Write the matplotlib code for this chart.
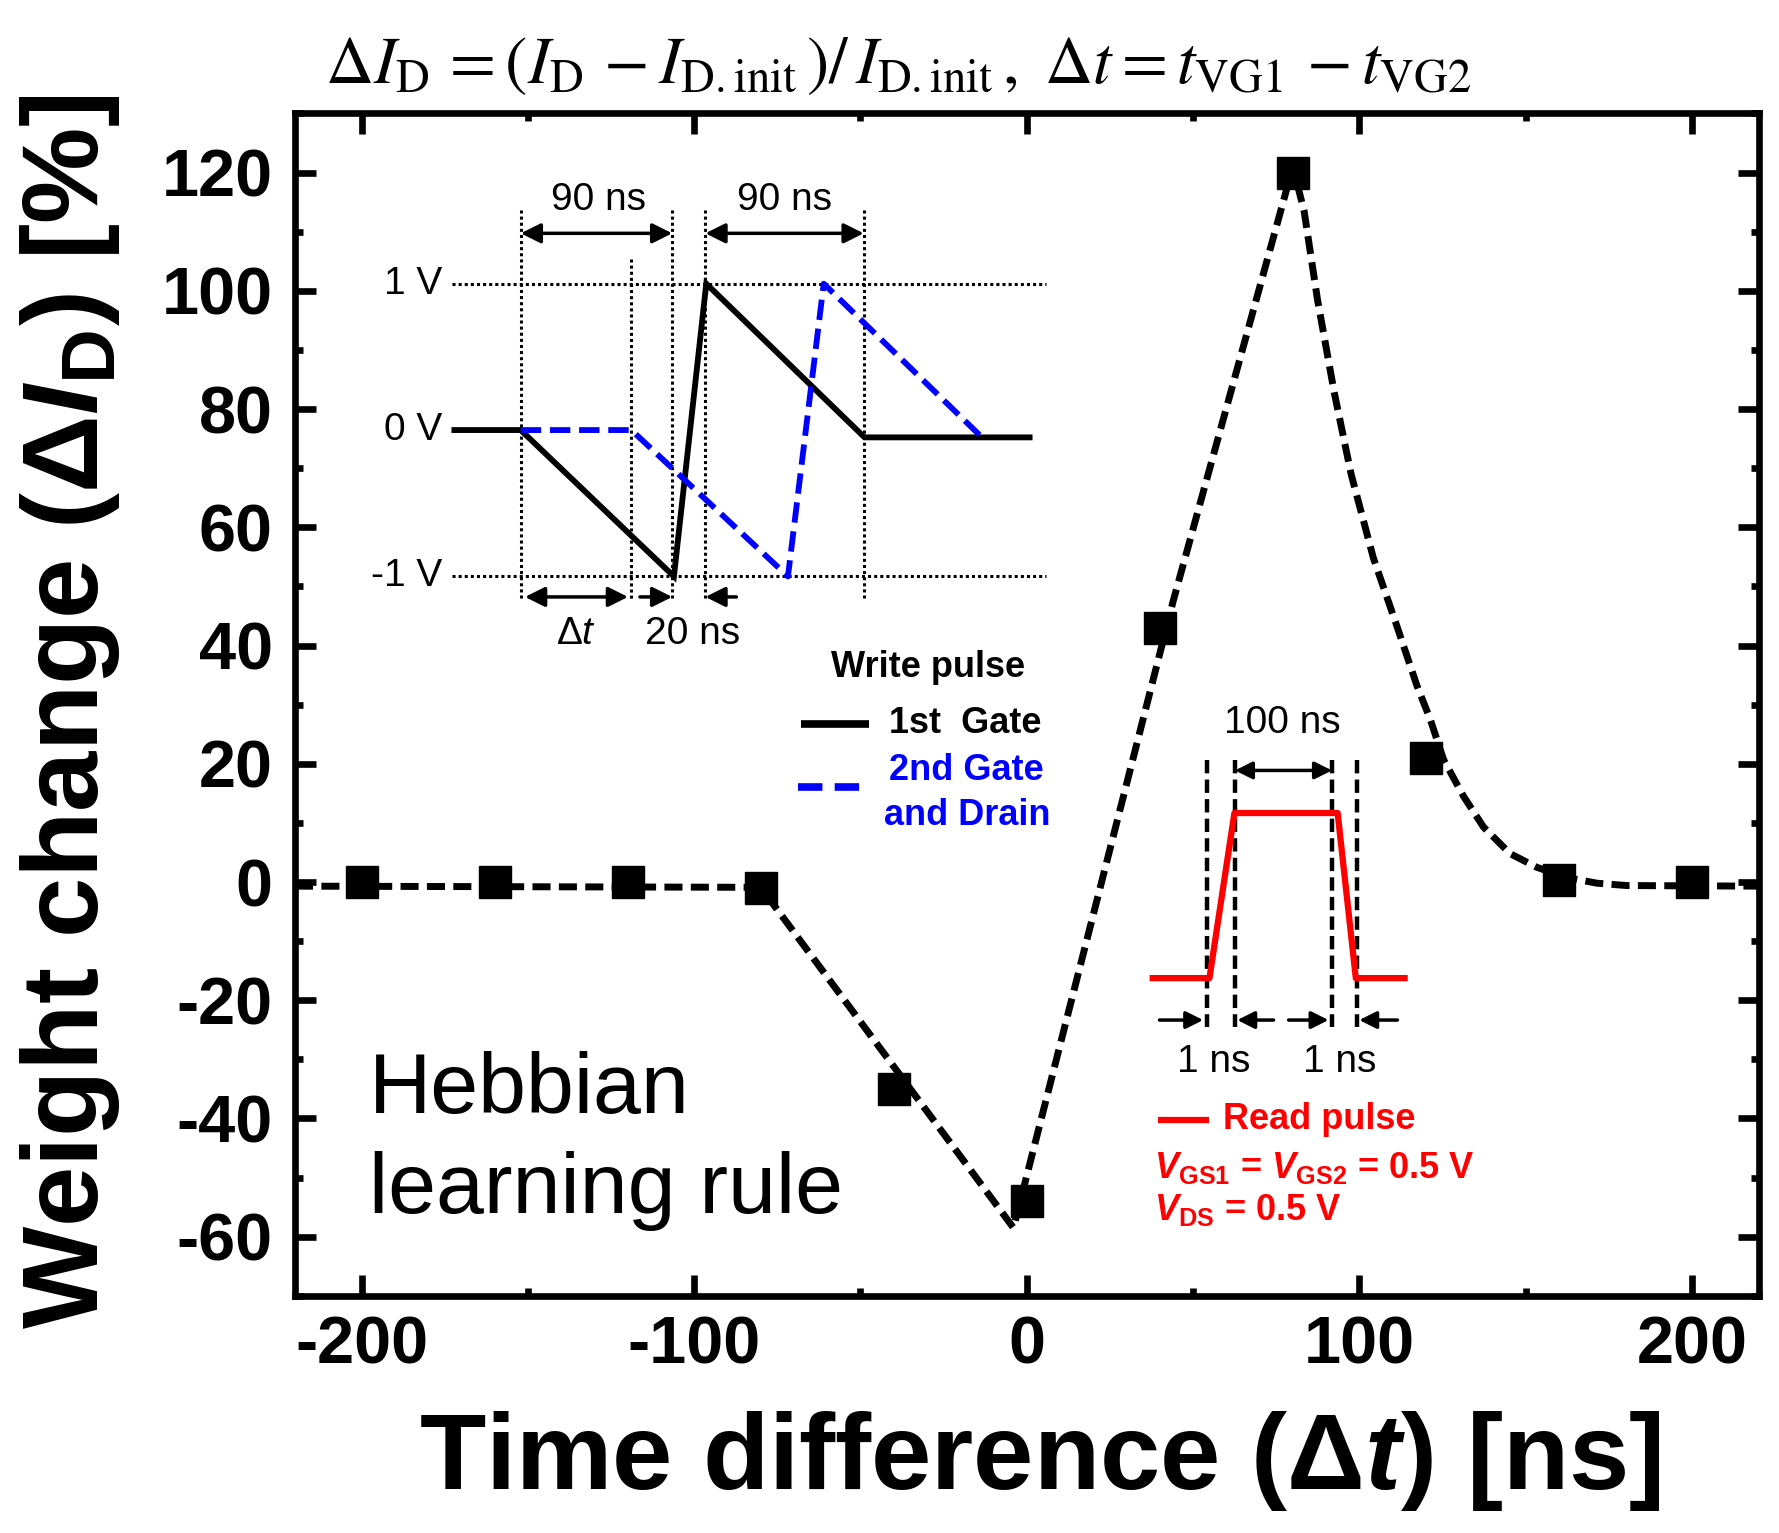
"""Hebbian learning rule: weight change vs. spike time difference."""

import matplotlib
matplotlib.use('Agg')
from matplotlib import pyplot as plt
from matplotlib import rc
from matplotlib.ticker import MultipleLocator

rc('font', family=['Liberation Sans', 'DejaVu Sans'])
rc('mathtext', fontset='custom', rm='Liberation Sans', it='Liberation Sans:italic',
   bf='Liberation Sans:bold', bfit='Liberation Sans:italic:bold')
rc('axes', unicode_minus=False)

# measured weight change
dt = [-200, -160, -120, -80, -40, 0, 40, 80, 120, 160, 200]
dI = [0, 0, 0, -1, -35, -54, 43, 120, 21, 0.4, 0]

# dashed guide curve
fit_dt = [-220, -80, -4, 44, 80, 83.4, 87.4, 92.4, 97.5, 104.2, 111.2, 117.3,
          121.3, 125.3, 131.3, 137.3, 145.3, 153.3, 162, 171.4, 180.4, 220]
fit_dI = [-0.7, -0.9, -58.5, 47.5, 121, 113.4, 98.5, 82.9, 69, 54.8, 43.4, 33.2,
          27.5, 20.7, 14.5, 9.3, 4.8, 2.5, 0.8, -0.2, -0.6, -0.7]

xticks = [-200, -100, 0, 100, 200]
yticks = [-60, -40, -20, 0, 20, 40, 60, 80, 100, 120]

# write pulse sketch (ns, V)
gate1_t = [-39, 0, 90, 109, 202, 299]
gate1_v = [0, 0, -1, 1, -0.05, -0.05]
gate2_t = [0, 65, 157, 178, 271]
gate2_v = [0, 0, -1, 1, -0.05]
write_marks = [0, 65, 89, 108.5, 201.5]
write_marks_top = [1.5, 1.17, 1.5, 1.5, 1.5]

# read pulse sketch (arbitrary units)
read_t = [0, 50, 72, 163, 179, 222]
read_v = [0, 0, 1, 1, 0, 0]
read_marks = [47.5, 72.5, 158, 180]

W, H = 1568., 1351.   # layout grid (pixels of the reference)


def rect(x0, y0, x1, y1):
    return [x0 / W, 1 - y1 / H, (x1 - x0) / W, (y1 - y0) / H]


def arrow(ax, x0, x1, y, style='-|>', ms=30, lw=2.5):
    ax.annotate('', xy=(x1, y), xytext=(x0, y),
                arrowprops=dict(arrowstyle=style, color='k', lw=lw,
                                mutation_scale=ms, shrinkA=0, shrinkB=0))


fig = plt.figure(figsize=(17.79, 15.33), dpi=100)

# ---- main panel
ax = fig.add_axes(rect(260, 100, 1550, 1142))
ax.plot(fit_dt, fit_dI, color='k', lw=5, dashes=(2.6, 1.2), zorder=2)
ax.plot(dt, dI, 's', color='k', ms=23, zorder=3)
ax.set_xlim(-220, 220)
ax.set_ylim(-70, 130)
ax.set_xticks(xticks)
ax.set_yticks(yticks)
ax.xaxis.set_minor_locator(MultipleLocator(50))
ax.yaxis.set_minor_locator(MultipleLocator(10))
ax.tick_params(which='both', direction='in', top=True, right=True, width=4.8)
ax.tick_params(which='major', length=15, labelsize=48)
ax.tick_params(which='minor', length=6)
ax.tick_params(axis='y', pad=16)
ax.tick_params(axis='x', pad=14)
for lab in ax.get_xticklabels() + ax.get_yticklabels():
    lab.set_fontweight('bold')
for sp in ax.spines.values():
    sp.set_linewidth(4.8)

# ---- overlay in reference pixel grid, for labels and legend keys
ov = fig.add_axes([0, 0, 1, 1])
ov.set_xlim(0, W)
ov.set_ylim(H, 0)
ov.axis('off')

ov.text(792, 58, r'$\Delta I_{\rm D}\, = \left(I_{\rm D}\, - I_{\rm D.init}\,\right)/\,'
        r'I_{\rm D.init}\,,\ \Delta t = t_{\rm VG1}\, - t_{\rm VG2}$',
        fontsize=48, math_fontfamily='stix', ha='center', va='center')
ov.text(917, 1312, r'Time difference (Δ$\mathbfit{t}$) [ns]', fontsize=78,
        fontweight='bold', ha='center', va='baseline')
ov.text(62, 627, r'Weight change (Δ$\mathbfit{I}_{\mathbf{D}}$) [%]', fontsize=78,
        fontweight='bold', rotation=90, ha='center', va='center')
ov.text(325, 981, 'Hebbian', fontsize=62, ha='left', va='baseline')
ov.text(325, 1069, 'learning rule', fontsize=62, ha='left', va='baseline')

# write pulse legend
ov.text(818, 588, 'Write pulse', fontsize=26, fontweight='bold', ha='center', va='center')
ov.plot([706, 766], [638, 638], color='k', lw=5.5, solid_capstyle='butt')
ov.text(784, 638, '1st  Gate', fontsize=26, fontweight='bold', ha='left', va='center')
ov.plot([703, 766], [694, 694], color='b', lw=5.5, dashes=(3.2, 1.6))
ov.text(784, 679, '2nd Gate', fontsize=26, fontweight='bold', color='b',
        ha='left', va='center')
ov.text(779, 719, 'and Drain', fontsize=26, fontweight='bold', color='b',
        ha='left', va='center')

# read pulse legend
ov.plot([1021, 1066], [987, 987], color='r', lw=4.5, solid_capstyle='butt')
ov.text(1078, 987, 'Read pulse', fontsize=26, fontweight='bold', color='r',
        ha='left', va='center')
ov.text(1017, 1029, r'$\mathbfit{V}_{\mathbf{GS1}}$ = $\mathbfit{V}_{\mathbf{GS2}}$ = 0.5 V',
        fontsize=26, fontweight='bold', color='r', ha='left', va='center')
ov.text(1017, 1066, r'$\mathbfit{V}_{\mathbf{DS}}$ = 0.5 V',
        fontsize=26, fontweight='bold', color='r', ha='left', va='center')

# ---- write pulse inset
wa = fig.add_axes(rect(369, 172, 939, 586))
wa.set_xlim(-60, 320)
wa.set_ylim(-(586 - 379) / 129, (379 - 172) / 129)
wa.axis('off')
for lev in (1, -1):
    wa.plot([-40.5, 308.8], [lev, lev], color='k', lw=2.2, dashes=(1, 1))
for t, top in zip(write_marks, write_marks_top):
    wa.plot([t, t], [top, -1.16], color='k', lw=2.2, dashes=(1, 1))
wa.plot(gate1_t, gate1_v, color='k', lw=4.2, solid_joinstyle='miter')
wa.plot(gate2_t, gate2_v, color='b', lw=4.2, dashes=(3.5, 1.5))
for lev, lab in zip((1, 0, -1), ('1 V', '0 V', '-1 V')):
    wa.text(-46, lev, lab, fontsize=28, ha='right', va='center')
arrow(wa, write_marks[0], write_marks[2], 1.344, '<|-|>')
arrow(wa, write_marks[3], write_marks[4], 1.344, '<|-|>')
wa.text(45.8, 1.57, '90 ns', fontsize=28, ha='center', va='center')
wa.text(155, 1.57, '90 ns', fontsize=28, ha='center', va='center')
arrow(wa, 2.5, 63, -1.14, '<|-|>')
arrow(wa, 70, write_marks[2], -1.14)
arrow(wa, 126.7, write_marks[3], -1.14)
wa.text(32.3, -1.39, r'Δ$t$', fontsize=28, ha='center', va='center')
wa.text(101, -1.39, '20 ns', fontsize=28, ha='center', va='center')

# ---- read pulse inset
ra = fig.add_axes(rect(1000, 620, 1260, 1080))
ra.set_xlim(-16, 244)
ra.set_ylim((862 - 1080) / 145.5, (862 - 620) / 145.5)
ra.axis('off')
for t in read_marks:
    ra.plot([t, t], [1.32, -0.296], color='k', lw=3.2, dashes=(3, 1.4))
ra.plot(read_t, read_v, color='r', lw=4.5)
arrow(ra, read_marks[1], read_marks[2], 1.258, '<|-|>', ms=26)
ra.text(114.5, 1.546, '100 ns', fontsize=28, ha='center', va='center')
arrow(ra, 6, read_marks[0] - 3, -0.254, ms=26)
arrow(ra, 106.5, read_marks[1] + 2, -0.254, ms=26)
arrow(ra, 119.8, read_marks[2] - 3, -0.254, ms=26)
arrow(ra, 215.7, read_marks[3] + 2, -0.254, ms=26)
ra.text(54, -0.509, '1 ns', fontsize=28, ha='center', va='center')
ra.text(165, -0.509, '1 ns', fontsize=28, ha='center', va='center')

fig.savefig('out.png', dpi=100)
